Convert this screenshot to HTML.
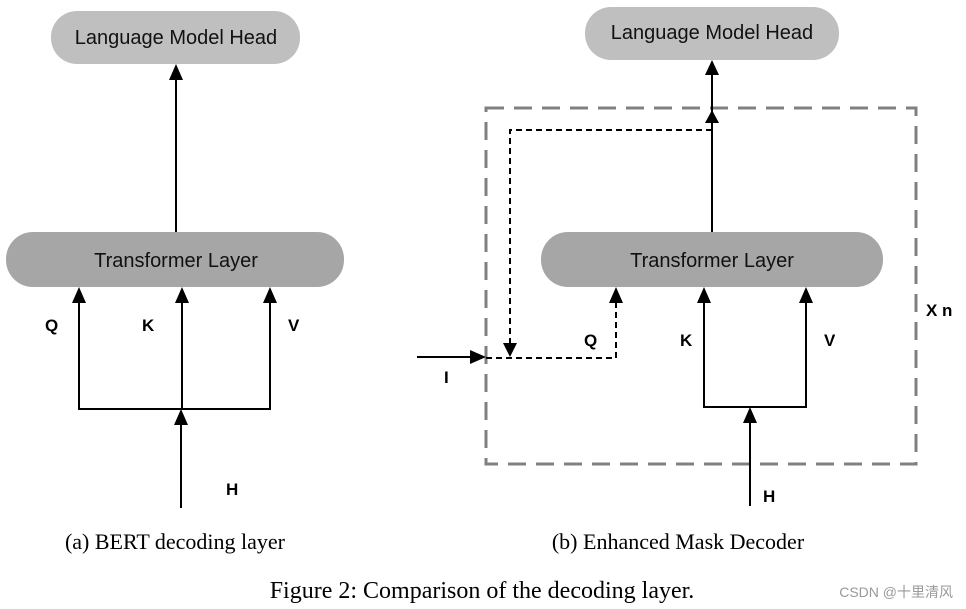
<!DOCTYPE html>
<html><head><meta charset="utf-8"><style>
html,body{margin:0;padding:0;background:#fff;width:966px;height:609px;overflow:hidden}
</style></head><body>
<svg width="966" height="609" viewBox="0 0 966 609" xmlns="http://www.w3.org/2000/svg">
<g font-family="Liberation Sans, sans-serif" fill="#111">
<!-- Left -->
<rect x="51" y="11" width="249" height="53" rx="26" fill="#bfbfbf"/>
<text x="176" y="44" font-size="20" text-anchor="middle">Language Model Head</text>
<rect x="6" y="232" width="338" height="55" rx="27" fill="#a6a6a6"/>
<text x="176" y="267" font-size="20" text-anchor="middle">Transformer Layer</text>
<g stroke="#000" stroke-width="2" fill="none">
<line x1="176" y1="232" x2="176" y2="80"/>
<polyline points="79,303 79,409 270,409 270,303"/>
<line x1="182" y1="409" x2="182" y2="303"/>
<line x1="181" y1="508" x2="181" y2="425"/>
</g>
<g fill="#000">
<path d="M176,64 L169,80 L183,80z"/>
<path d="M79,287 L72,303 L86,303z"/>
<path d="M182,287 L175,303 L189,303z"/>
<path d="M270,287 L263,303 L277,303z"/>
<path d="M181,409 L174,425 L188,425z"/>
</g>
<g font-weight="bold" font-size="17" fill="#000">
<text x="45" y="331">Q</text><text x="142" y="331">K</text><text x="288" y="331">V</text><text x="226" y="495">H</text>
</g>
<!-- Right -->
<rect x="486" y="108" width="430" height="356" fill="none" stroke="#808080" stroke-width="3" stroke-dasharray="18,10"/>
<rect x="585" y="7" width="254" height="53" rx="26" fill="#bfbfbf"/>
<text x="712" y="39" font-size="20" text-anchor="middle">Language Model Head</text>
<rect x="541" y="232" width="342" height="55" rx="27" fill="#a6a6a6"/>
<text x="712" y="267" font-size="20" text-anchor="middle">Transformer Layer</text>
<g stroke="#000" stroke-width="2" fill="none">
<line x1="712" y1="232" x2="712" y2="75"/>
<polyline points="704,303 704,407 806,407 806,303"/>
<line x1="750" y1="506" x2="750" y2="423"/>
<line x1="417" y1="357" x2="470" y2="357"/>
</g>
<g stroke="#000" stroke-width="2" fill="none" stroke-dasharray="6,4">
<polyline points="712,130 510,130 510,343"/>
<polyline points="486,358 616,358 616,303"/>
</g>
<g fill="#000">
<path d="M712,60 L705,75 L719,75z"/>
<path d="M712,110 L705,123 L719,123z"/>
<path d="M616,287 L609,303 L623,303z"/>
<path d="M704,287 L697,303 L711,303z"/>
<path d="M806,287 L799,303 L813,303z"/>
<path d="M750,407 L743,423 L757,423z"/>
<path d="M510,357 L503,343 L517,343z"/>
<path d="M486,357 L470,350 L470,364z"/>
</g>
<g font-weight="bold" font-size="17" fill="#000">
<text x="584" y="346">Q</text><text x="680" y="346">K</text><text x="824" y="346">V</text><text x="763" y="502">H</text>
<text x="444" y="383">I</text><text x="926" y="316">X n</text>
</g>
</g>
<g font-family="Liberation Serif, serif" fill="#000">
<text x="175" y="549" font-size="22" text-anchor="middle">(a) BERT decoding layer</text>
<text x="678" y="549" font-size="22" text-anchor="middle">(b) Enhanced Mask Decoder</text>
<text x="482" y="598" font-size="24" text-anchor="middle">Figure 2: Comparison of the decoding layer.</text>
</g>
<text x="953" y="597" font-size="14" text-anchor="end" fill="#999" font-family="Liberation Sans, 'Noto Sans CJK SC', sans-serif">CSDN @十里清风</text>
</svg>
</body></html>
